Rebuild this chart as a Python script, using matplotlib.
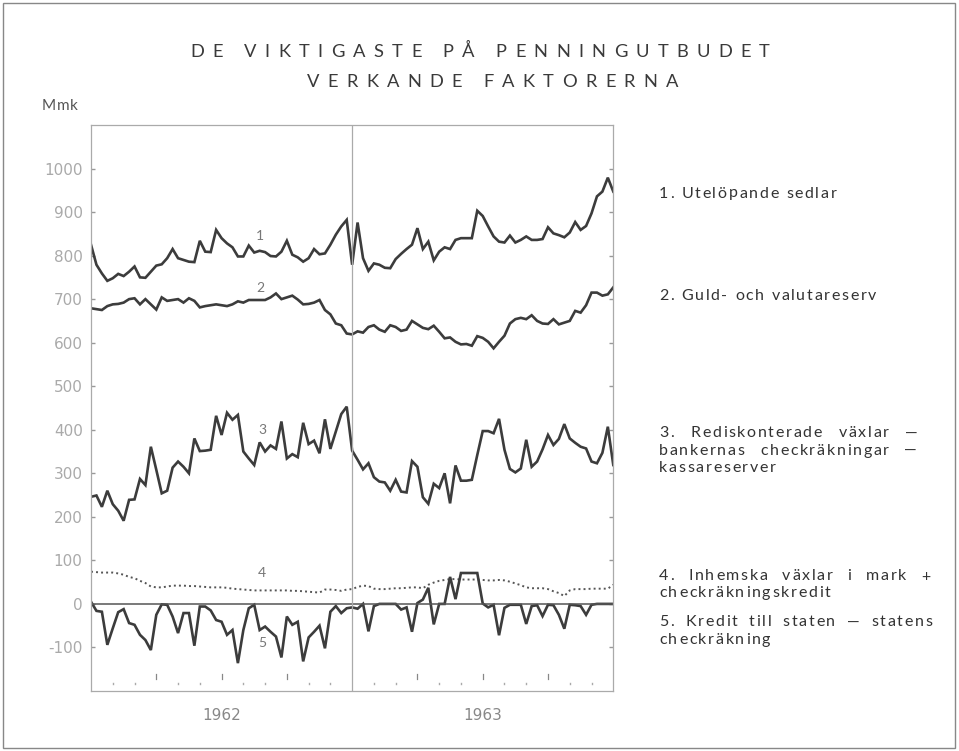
import numpy as np
import matplotlib
matplotlib.use("Agg")
import matplotlib.pyplot as plt
from matplotlib.font_manager import FontProperties

plt.rcParams['font.family'] = ['Lato', 'DejaVu Sans']

# 48 reporting dates per year (7th, 15th, 23rd, month end), from end of 1961 to end of 1963
years = ["1962", "1963"]
per_year = 48

# 1. Utelöpande sedlar
sedlar = [825, 779, 759, 742, 748, 758, 753, 763, 775, 750, 749, 763, 777, 780, 794, 815,
          794, 790, 786, 785, 834, 809, 808, 859, 840, 828, 819, 798, 798, 823, 807, 811,
          808, 799, 798, 809, 834, 802, 796, 786, 794, 815, 803, 805, 825, 848, 867, 882,
          779, 876, 794, 765, 782, 779, 772, 771, 792, 804, 815, 825, 863, 815, 832, 789,
          809, 819, 815, 836, 840, 840, 840, 903, 891, 867, 844, 832, 830, 846, 830, 836,
          844, 836, 836, 838, 865, 851, 847, 842, 853, 877, 859, 868, 897, 936, 947, 979, 947]

# 2. Guld- och valutareserv
reserv = [679, 677, 675, 684, 688, 689, 692, 700, 702, 688, 700, 688, 676, 704, 696, 698,
          700, 692, 702, 696, 681, 684, 686, 688, 686, 684, 688, 695, 692, 698, 698, 698,
          698, 704, 713, 700, 704, 708, 699, 688, 689, 692, 698, 675, 665, 644, 640, 621,
          619, 626, 623, 636, 640, 630, 625, 640, 636, 627, 630, 650, 642, 634, 631, 639,
          625, 610, 612, 602, 596, 597, 593, 615, 611, 602, 587, 602, 616, 644, 654, 657,
          654, 663, 650, 644, 643, 654, 642, 646, 650, 673, 669, 686, 715, 715, 708, 711, 727]

# 3. Rediskonterade växlar - bankernas checkräkningar - kassareserver
rediskont = [246, 249, 223, 260, 229, 214, 191, 239, 240, 287, 273, 361, 308, 254, 260, 313,
             327, 315, 300, 380, 351, 352, 354, 432, 388, 439, 423, 434, 350, 334, 319, 371,
             350, 364, 356, 419, 334, 344, 337, 416, 367, 375, 346, 424, 356, 396, 436, 453,
             352, 331, 309, 323, 291, 281, 279, 260, 285, 258, 256, 328, 315, 245, 230, 276,
             266, 300, 231, 318, 283, 283, 285, 342, 397, 397, 392, 425, 354, 310, 302, 311,
             377, 315, 327, 355, 388, 365, 379, 413, 380, 370, 361, 357, 327, 323, 347, 407, 319]

# 4. Inhemska växlar i mark + checkräkningskredit
inhemska = [74, 73, 72, 72, 72, 70, 67, 62, 59, 53, 48, 40, 38, 38, 40, 42,
            42, 42, 41, 41, 40, 39, 38, 38, 38, 37, 35, 34, 33, 32, 31, 31,
            31, 31, 31, 31, 31, 30, 30, 29, 28, 27, 26, 33, 33, 32, 30, 33,
            34, 39, 42, 41, 35, 34, 34, 35, 36, 36, 37, 38, 38, 36, 44, 49,
            53, 55, 57, 57, 56, 56, 56, 56, 55, 54, 54, 55, 54, 51, 47, 43,
            38, 36, 36, 36, 34, 29, 25, 18, 31, 34, 34, 34, 35, 35, 35, 35, 44]

# 5. Kredit till staten - statens checkräkning
staten = [5, -16, -18, -94, -56, -19, -12, -44, -48, -71, -83, -106, -25, -1, -2, -29,
          -67, -21, -21, -96, -6, -6, -15, -37, -41, -71, -60, -136, -60, -10, -2, -60,
          -52, -64, -75, -123, -29, -48, -41, -132, -77, -64, -50, -102, -18, -5, -21, -10,
          -8, -11, 0, -63, -5, 0, 0, 0, 0, -13, -8, -64, 2, 10, 37, -47,
          0, 0, 62, 11, 71, 71, 71, 71, 1, -8, -2, -72, -9, -2, -2, -2,
          -46, -5, -3, -28, -2, -3, -25, -57, -2, -3, -5, -25, -2, 0, 0, 0, 0]

y_ticks = [-100, 0, 100, 200, 300, 400, 500, 600, 700, 800, 900, 1000]

title_lines = ["DE VIKTIGASTE PÅ PENNINGUTBUDET", "VERKANDE FAKTORERNA"]

# (baseline y in px, text, right edge for justified lines or None)
legend_lines = [
    (197.5, "1. Utelöpande sedlar", None),
    (300.5, "2. Guld- och valutareserv", None),
    (437.5, "3. Rediskonterade växlar —", 918),
    (455, "bankernas checkräkningar —", 917),
    (471.5, "kassareserver", None),
    (580.5, "4. Inhemska växlar i mark +", 930),
    (597, "checkräkningskredit", None),
    (626.5, "5. Kredit till staten — statens", 932),
    (644, "checkräkning", None),
]

line_col = "#3c3c3c"
x = 1962 + np.arange(len(sedlar)) / per_year

fig = plt.figure(figsize=(9.59, 7.51), dpi=100)
ax = fig.add_axes([0.0949, 0.0799, 0.5446, 0.7537])
renderer = fig.canvas.get_renderer()


def tracked(x_px, y_px, s, size, track=0.0, width=None, right=None,
            center=False, color="#333333"):
    """Letter-spaced text; x/y in pixels from the top left, y is the baseline."""
    prop = FontProperties(family=["Lato", "DejaVu Sans"], size=size)

    def w(t):
        return renderer.get_text_width_height_descent(t, prop, ismath=False)[0]

    base = w("xx")
    advs = [w("x" + c + "x") - base for c in s]
    if width is not None:
        track = (width - sum(advs)) / (len(s) - 1)
    total = sum(advs) + track * (len(s) - 1)
    extra = 0.0
    if right is not None:
        extra = (right - x_px - total) / s.count(" ")
        total = right - x_px
    if center:
        x_px -= total / 2
    W, H = fig.bbox.width, fig.bbox.height
    pos = x_px
    for c, a in zip(s, advs):
        if c != " ":
            fig.text(pos / W, 1 - y_px / H, c, fontproperties=prop, color=color,
                     ha="left", va="baseline")
        pos += a + track + (extra if c == " " else 0.0)


ax.plot(x, sedlar, color=line_col, lw=1.9, solid_joinstyle="miter")
ax.plot(x, reserv, color=line_col, lw=1.9, solid_joinstyle="miter")
ax.plot(x, rediskont, color=line_col, lw=1.9, solid_joinstyle="miter")
ax.plot(x, inhemska, color="#555555", lw=1.4, ls=(0, (1, 1.6)))
ax.plot(x, staten, color=line_col, lw=1.9, solid_joinstyle="miter")

ax.axhline(0, color="#555555", lw=1.1)
ax.axvline(1963, color="#aaaaaa", lw=0.9)

# curve numbers
for lx, ly, s in [(1962.645, 845, "1"), (1962.65, 726, "2"), (1962.655, 400, "3"),
                  (1962.655, 72, "4"), (1962.655, -89, "5")]:
    ax.text(lx, ly, s, color="#777777", fontsize=10, ha="center", va="center")

ax.set_xlim(1962, 1964)
ax.set_ylim(-200, 1100)
ax.set_yticks(y_ticks)
ax.set_yticklabels([str(v) for v in y_ticks], family="DejaVu Sans")
ax.tick_params(axis="y", direction="in", length=3, width=1, color="#999999",
               labelcolor="#aaaaaa", labelsize=11, pad=6, right=True)
ax.set_xticks([1962.5, 1963.5])
ax.set_xticklabels(years, family="DejaVu Sans")
ax.tick_params(axis="x", length=0, labelcolor="#888888", labelsize=11, pad=12)
for sp in ax.spines.values():
    sp.set_color("#aaaaaa")
    sp.set_linewidth(0.9)

# month marks along the bottom
for yr in (1962, 1963):
    for m in range(1, 12):
        xm = yr + m / 12
        if m % 3 == 0:
            ax.plot([xm, xm], [-172, -160], color="#888888", lw=0.9)
        else:
            ax.plot([xm, xm], [-184, -181], color="#aaaaaa", lw=1.0)

tracked(480, 57.3, title_lines[0], 13.2, width=580, center=True, color="#3a3a3a")
tracked(492.5, 87.3, title_lines[1], 13.2, width=371, center=True, color="#3a3a3a")
tracked(42, 110, "Mmk", 11, track=0.8, color="#555555")

for ly, s, r in legend_lines:
    tracked(659, ly, s, 11.5, track=1.7, right=r, color="#333333")

# outer frame
fig.add_artist(plt.Rectangle((0.003, 0.004), 0.993, 0.992, transform=fig.transFigure,
                             fill=False, edgecolor="#888888", lw=1.0))

fig.savefig("out.png", dpi=100)
